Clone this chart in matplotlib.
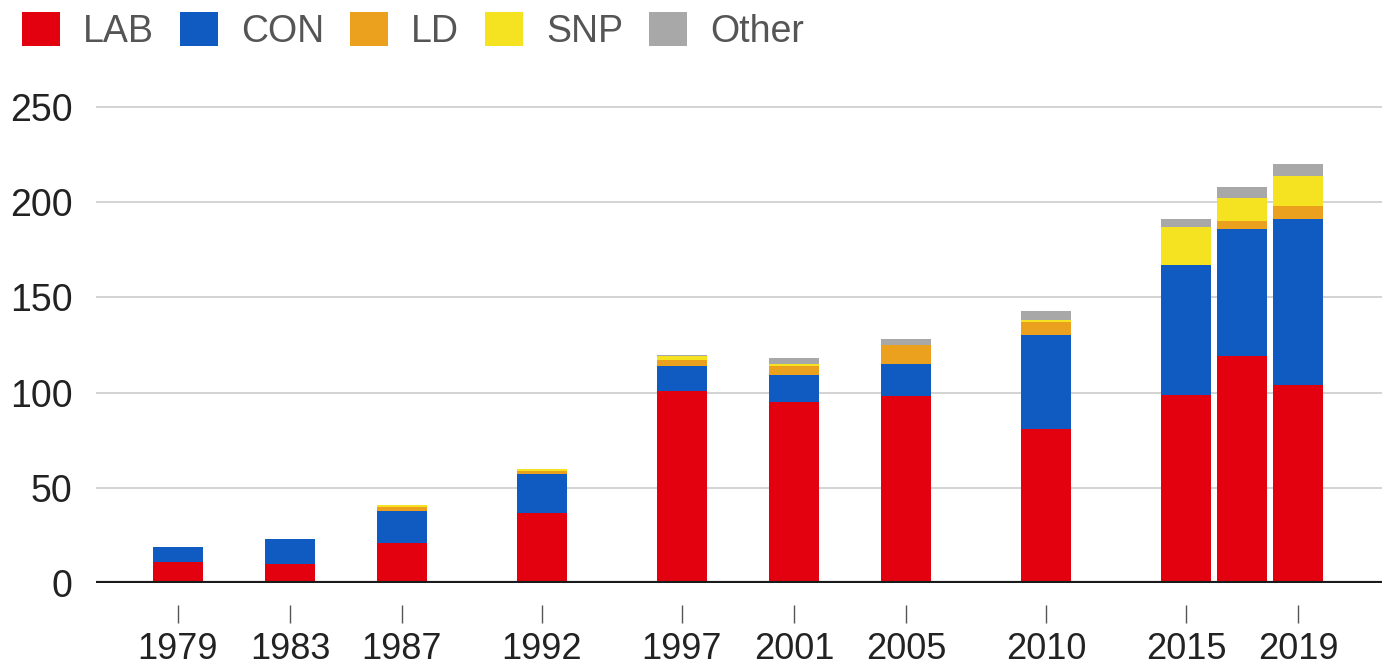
import numpy as np
import matplotlib
matplotlib.use('Agg')
import matplotlib.pyplot as plt
from matplotlib.patches import Patch

years = [1979, 1983, 1987, 1992, 1997, 2001, 2005, 2010, 2015, 2017, 2019]
tick_years = [1979, 1983, 1987, 1992, 1997, 2001, 2005, 2010, 2015, 2019]

lab = [11, 10, 21, 37, 101, 95, 98, 81, 99, 119, 104]
con = [8, 13, 17, 20, 13, 14, 17, 49, 68, 67, 87]
ld = [0, 0, 2, 2, 3, 5, 10, 7, 0, 4, 7]
snp = [0, 0, 1, 1, 2, 1, 0, 1, 20, 12, 16]
other = [0, 0, 0, 0, 1, 3, 3, 5, 4, 6, 6]

parties = ['LAB', 'CON', 'LD', 'SNP', 'Other']
series = [lab, con, ld, snp, other]
colors = ['#e3000f', '#0f5bc2', '#eba01e', '#f5e322', '#a8a8a8']

plt.rcParams['font.family'] = ['Liberation Sans', 'DejaVu Sans']

W, H = 1389, 668
fig = plt.figure(figsize=(W / 100, H / 100), dpi=100)

# axes placed in pixel terms: x 96..1382, y0 at 583, 1.904 px per unit
ymax = 255
px_unit = (583 - 107) / 250
ax = fig.add_axes([96 / W, (H - 583) / H, (1382 - 96) / W, ymax * px_unit / H])

px_year = (1298 - 178) / 40
x_left = 1979 - (178 - 96) / px_year
x_right = 2019 + (1382 - 1298) / px_year
ax.set_xlim(x_left, x_right)
ax.set_ylim(0, ymax)

bottom = np.zeros(len(years))
for name, vals, c in zip(parties, series, colors):
    ax.bar(years, vals, width=1.78, bottom=bottom, color=c, label=name, zorder=3)
    bottom += np.array(vals)

ax.set_yticks([0, 50, 100, 150, 200, 250])
ax.yaxis.grid(True, color='#cccccc', linewidth=1.2, zorder=0)
ax.axhline(0, color='#1a1a1a', linewidth=3, zorder=4)

for s in ['top', 'right', 'left']:
    ax.spines[s].set_visible(False)
ax.spines['bottom'].set_position(('outward', 16))
ax.spines['bottom'].set_visible(False)

ax.set_xticks(tick_years)
ax.tick_params(axis='x', length=13, width=1, color='#555555', pad=6,
               labelsize=26, labelcolor='#222222')
ax.tick_params(axis='y', length=0, pad=17, labelsize=27, labelcolor='#222222')

handles = [Patch(facecolor=c, edgecolor='none') for c in colors]
fig.legend(handles, parties, loc='upper left', bbox_to_anchor=(22 / W, 1 - 12 / H),
           ncol=5, frameon=False, fontsize=27, labelcolor='#555555',
           handlelength=1.0, handleheight=1.0, handletextpad=0.62,
           columnspacing=0.7, borderpad=0, borderaxespad=0)

fig.savefig('out.png', dpi=100)
